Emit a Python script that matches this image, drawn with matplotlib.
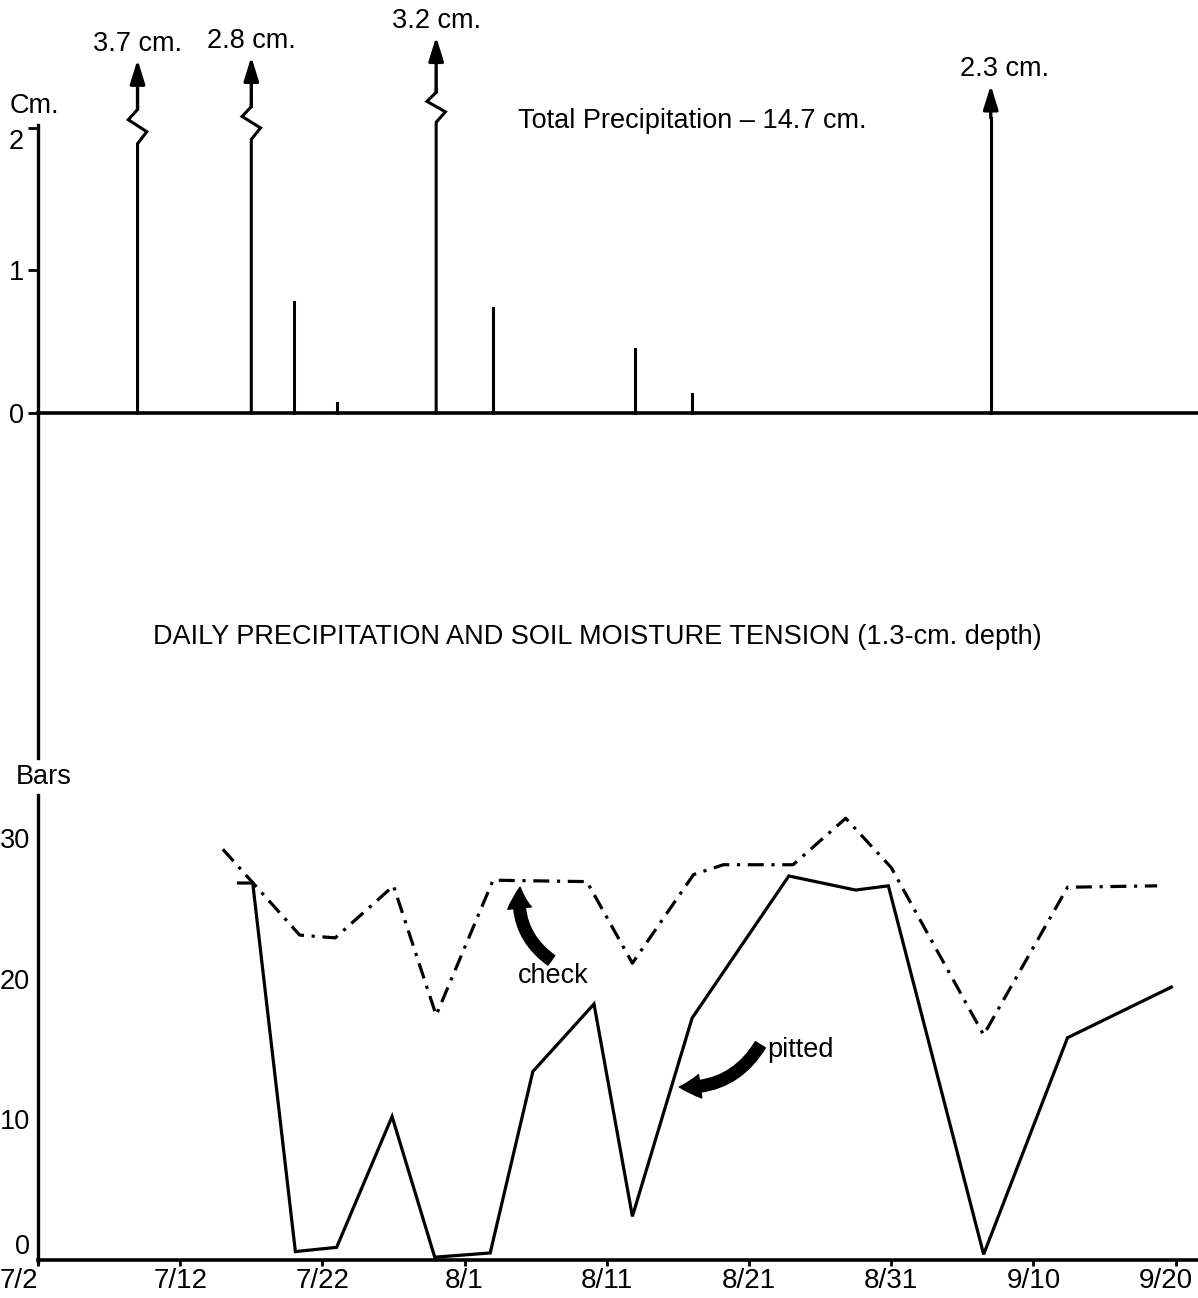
import matplotlib
matplotlib.use("Agg")
import matplotlib.pyplot as plt
from matplotlib.lines import Line2D
import matplotlib.transforms as mtransforms

plt.rcParams['font.family'] = ['Liberation Sans', 'DejaVu Sans']
FS = 19.5

# ---------------- data ----------------
date_ticks = [0, 10, 20, 30, 40, 50, 60, 70, 80]          # days after 7/2
date_labels = ["7/2", "7/12", "7/22", "8/1", "8/11", "8/21", "8/31", "9/10", "9/20"]

precip_days = [7, 15, 18, 21, 28, 32, 42, 46, 67]
precip_cm = [3.7, 2.8, 0.78, 0.07, 3.2, 0.74, 0.45, 0.13, 2.3]
total_precip = 14.7

pitted_days = [14.1, 15.1, 18.1, 21.0, 24.9, 27.9, 31.8, 34.8, 39.1, 41.8,
               46.0, 52.8, 57.5, 59.8, 66.5, 72.4, 79.7]
pitted_bars = [26.8, 26.8, 0.6, 0.9, 10.2, 0.2, 0.5, 13.4, 18.2, 3.1,
               17.2, 27.3, 26.3, 26.6, 0.4, 15.8, 19.4]

check_days = [13.0, 18.4, 20.9, 25.0, 28.0, 32.0, 38.6, 41.8, 46.1, 48.2,
              53.1, 56.8, 60.0, 66.5, 72.4, 78.7]
check_bars = [29.2, 23.1, 22.9, 26.6, 17.4, 27.0, 26.9, 21.1, 27.4, 28.1,
              28.1, 31.4, 27.9, 16.0, 26.5, 26.6]

top_yticks = [0, 1, 2]
bottom_yticks = [0, 10, 20, 30]

# ---------------- layout ----------------
W, H = 1198, 1298
X0, XR = 38, 1198
PX_PER_DAY = 14.22
XMAX = (XR - X0) / PX_PER_DAY


def frac(l, t, r, b):
    return [l / W, 1 - b / H, (r - l) / W, (b - t) / H]


fig = plt.figure(figsize=(W / 100, H / 100), dpi=100, facecolor='white')

LW = 2.2

# ---- top: precipitation ----
ax1 = fig.add_axes(frac(X0, 128, XR, 413))
ax1.set_xlim(0, XMAX)
ax1.set_ylim(0, 2)
for s in ['top', 'right', 'left']:
    ax1.spines[s].set_visible(False)
ax1.spines['bottom'].set_linewidth(2.6)
ax1.set_xticks([])
ax1.set_yticks(top_yticks)
ax1.set_yticklabels([str(v) for v in top_yticks], fontsize=FS)
ax1.tick_params(axis='y', direction='out', length=7, width=2, pad=3)
ax1.patch.set_alpha(0)
lbl2 = ax1.get_yticklabels()[-1]
lbl2.set_transform(lbl2.get_transform() +
                   mtransforms.ScaledTranslation(0, -11 / 100, fig.dpi_scale_trans))

# layout of broken (off-scale) stems: zig low, zig high, arrow tip (axis units)
break_layout = {0: (1.89, 2.13, 2.48), 1: (1.92, 2.15, 2.50), 4: (2.04, 2.25, 2.64)}
arrow_style = dict(arrowstyle='-|>,head_length=0.9,head_width=0.28', lw=2.4,
                   color='black', shrinkA=0, shrinkB=0, mutation_scale=16)

for i, (d, v) in enumerate(zip(precip_days, precip_cm)):
    if i in break_layout:
        lo, hi, tip = break_layout[i]
        h = hi - lo
        dz = 0.65
        xs = [d, d, d + dz, d - dz, d, d]
        ys = [0, lo, lo + 0.35 * h, lo + 0.7 * h, hi, hi + 0.02]
        ax1.plot(xs, ys, color='black', lw=LW, clip_on=False,
                 solid_joinstyle='miter')
        ax1.annotate('', xy=(d, tip), xytext=(d, hi), arrowprops=arrow_style,
                     annotation_clip=False)
        ax1.text(d, tip + 0.02, f"{v} cm.", ha='center', va='bottom',
                 fontsize=FS)
    elif v > 1.5:
        ax1.plot([d, d], [0, v * 0.9], color='black', lw=LW, clip_on=False)
        ax1.annotate('', xy=(d, v), xytext=(d, v * 0.9), arrowprops=arrow_style,
                     annotation_clip=False)
        ax1.text(d + 1.0, v + 0.02, f"{v} cm.", ha='center', va='bottom',
                 fontsize=FS)
    else:
        ax1.plot([d, d], [0, v], color='black', lw=LW, clip_on=False)

ax1.text(33.75, 2.05, f"Total Precipitation \u2013 {total_precip} cm.",
         ha='left', va='center', fontsize=FS)

# ---- bottom: soil moisture tension ----
ax2 = fig.add_axes(frac(X0, 838, XR, 1260))
ax2.set_xlim(0, XMAX)
ax2.set_ylim(0, 30)
for s in ['top', 'right', 'left']:
    ax2.spines[s].set_visible(False)
ax2.spines['bottom'].set_linewidth(2.6)
ax2.set_xticks(date_ticks)
ax2.set_xticklabels(date_labels, fontsize=FS + 0.5)
ax2.tick_params(axis='x', direction='out', length=4, width=2, pad=2)
ax2.set_yticks(bottom_yticks)
ax2.set_yticklabels([str(v) for v in bottom_yticks], fontsize=FS)
ax2.tick_params(axis='y', length=0, pad=6)
ax2.patch.set_alpha(0)
xl = ax2.get_xticklabels()
xl[0].set_ha('right')
xl[-1].set_transform(xl[-1].get_transform() +
                     mtransforms.ScaledTranslation(-10 / 100, 0, fig.dpi_scale_trans))
ax2.get_yticklabels()[0].set_va('bottom')

ax2.plot(pitted_days, pitted_bars, color='black', lw=2.3, clip_on=False,
         solid_joinstyle='miter')
ax2.plot(check_days, check_bars, color='black', lw=2.3, clip_on=False,
         linestyle=(0, (5.0, 2.4, 1.0, 2.4)), dash_capstyle='butt')

curved = dict(arrowstyle='simple,head_length=0.75,head_width=0.85,tail_width=0.42',
              color='black', mutation_scale=20, shrinkA=0, shrinkB=0)
ax2.annotate('', xy=(33.9, 26.5), xytext=(36.1, 21.3),
             arrowprops=dict(connectionstyle='arc3,rad=-0.3', **curved))
ax2.text(36.2, 20.2, "check", ha='center', va='center', fontsize=FS)
ax2.annotate('', xy=(45.1, 12.3), xytext=(50.8, 15.3),
             arrowprops=dict(connectionstyle='arc3,rad=-0.3', **curved))
ax2.text(51.3, 14.9, "pitted", ha='left', va='center', fontsize=FS)

# left axis line across both panels, interrupted by the "Bars" label
for y_top, y_bot in [(125, 758), (795, 1262)]:
    fig.add_artist(Line2D([X0 / W, X0 / W], [1 - y_top / H, 1 - y_bot / H],
                          transform=fig.transFigure, color='black', lw=2.4))

fig.text(10 / W, 1 - 106 / H, "Cm.", ha='left', va='center', fontsize=FS)
fig.text(16 / W, 1 - 777 / H, "Bars", ha='left', va='center', fontsize=FS)
fig.text(597 / W, 1 - 637 / H,
         "DAILY PRECIPITATION AND SOIL MOISTURE TENSION (1.3-cm. depth)",
         ha='center', va='center', fontsize=FS)

fig.savefig("out.png", dpi=100, facecolor='white')
